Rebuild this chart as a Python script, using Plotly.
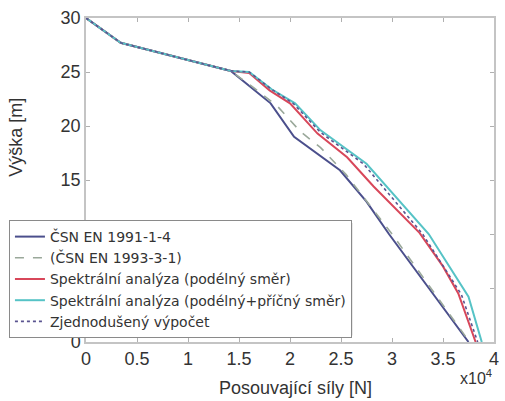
import plotly.graph_objects as go

# Data (x in units of 10^4 N, y in m)
csn_1991_x = [0, 0.34, 1.42, 1.81, 2.04, 2.17, 2.49, 2.75, 2.97, 3.36, 3.75]
csn_1991_y = [30, 27.7, 25.1, 22.1, 19.0, 18.1, 15.9, 13.0, 10.0, 5.0, 0]

csn_1993_x = [0, 0.34, 1.42, 1.65, 1.88, 2.10, 2.30, 2.55, 3.00, 3.38, 3.76]
csn_1993_y = [30, 27.7, 25.1, 23.5, 21.8, 19.5, 18.0, 15.5, 10.0, 5.0, 0]

spek_pod_x = [0, 0.34, 1.42, 1.60, 1.80, 2.00, 2.27, 2.56, 2.82, 3.27, 3.50, 3.65, 3.82]
spek_pod_y = [30, 27.7, 25.1, 24.9, 23.3, 22.1, 19.3, 17.1, 14.4, 10.1, 7.0, 4.5, 0]

spek_pp_x = [0, 0.34, 1.42, 1.60, 1.82, 2.05, 2.30, 2.75, 3.36, 3.75, 3.88]
spek_pp_y = [30, 27.7, 25.1, 25.0, 23.4, 22.1, 19.6, 16.5, 10.0, 4.2, 0]

zjed_x = [0, 0.34, 1.42, 1.60, 1.82, 2.03, 2.30, 2.72, 3.30, 3.68, 3.84]
zjed_y = [30, 27.7, 25.1, 25.0, 23.4, 22.1, 19.4, 16.5, 10.0, 4.4, 0]

names = ["ČSN EN 1991-1-4", "(ČSN EN 1993-3-1)", "Spektrální analýza (podélný směr)",
         "Spektrální analýza (podélný+příčný směr)", "Zjednodušený výpočet"]

x_ticks = [0, 0.5, 1, 1.5, 2, 2.5, 3, 3.5, 4]
x_labels = ["0", "0.5", "1", "1.5", "2", "2.5", "3", "3.5", "4"]
y_ticks = [0, 5, 10, 15, 20, 25, 30]
y_labels = ["0", "", "", "15", "20", "25", "30"]  # 5 and 10 hidden behind the legend

FONT = "Liberation Sans, Arial, sans-serif"

fig = go.Figure()
fig.add_trace(go.Scatter(x=csn_1991_x, y=csn_1991_y, mode="lines", name=names[0],
                         line=dict(color="#4b4f8c", width=2)))
fig.add_trace(go.Scatter(x=csn_1993_x, y=csn_1993_y, mode="lines", name=names[1],
                         line=dict(color="#9aa89a", width=1.6, dash="dash")))
fig.add_trace(go.Scatter(x=spek_pod_x, y=spek_pod_y, mode="lines", name=names[2],
                         line=dict(color="#d8475a", width=2)))
fig.add_trace(go.Scatter(x=spek_pp_x, y=spek_pp_y, mode="lines", name=names[3],
                         line=dict(color="#56c3c6", width=2)))
fig.add_trace(go.Scatter(x=zjed_x, y=zjed_y, mode="lines", name=names[4],
                         line=dict(color="#5a5490", width=1.6, dash="dot")))

axis_common = dict(showgrid=False, zeroline=False, showline=True, linecolor="#c4c4c4",
                   linewidth=1.5, mirror="ticks", ticks="inside", ticklen=4,
                   tickcolor="#b0b0b0", tickfont=dict(size=18, color="#333333", family=FONT))

fig.update_layout(
    width=505, height=401,
    margin=dict(l=86, r=6, t=18, b=59),
    paper_bgcolor="white", plot_bgcolor="white",
    font=dict(family=FONT, color="#333333"),
    xaxis=dict(range=[0, 4], tickvals=x_ticks, ticktext=x_labels, **axis_common),
    yaxis=dict(range=[0, 30], tickvals=y_ticks, ticktext=y_labels, **axis_common),
    showlegend=True,
    legend=dict(x=(8 - 86) / 413, y=(342 - 220) / 324, xanchor="left", yanchor="top",
                bgcolor="white", bordercolor="#8a8a8a", borderwidth=1,
                font=dict(size=14, color="#333333", family="DejaVu Sans, sans-serif"),
                itemwidth=30, tracegroupgap=0),
    shapes=[
        dict(type="rect", xref="paper", yref="paper", layer="above",
             x0=(11 - 86) / 413, x1=(355.5 - 86) / 413,
             y0=(342 - 335.5) / 324, y1=(342 - 223) / 324,
             fillcolor="#a0a0a0", line=dict(width=0)),
    ],
    annotations=[
        dict(text="Výška [m]", xref="paper", yref="paper", x=(15 - 86) / 413, y=(342 - 137) / 324,
             textangle=-90, showarrow=False, font=dict(size=18, color="#333333"),
             xanchor="center", yanchor="middle"),
        dict(text="Posouvající síly [N]", xref="paper", yref="paper", x=(298 - 86) / 413,
             y=(342 - 388) / 324, showarrow=False, font=dict(size=18, color="#333333"),
             xanchor="center", yanchor="middle"),
        dict(text="x10<sup>4</sup>", xref="paper", yref="paper", x=(499 - 86) / 413,
             y=(342 - 365) / 324, showarrow=False, font=dict(size=16, color="#333333"),
             xanchor="right", yanchor="top"),
    ],
)

fig.write_html("out.html")
